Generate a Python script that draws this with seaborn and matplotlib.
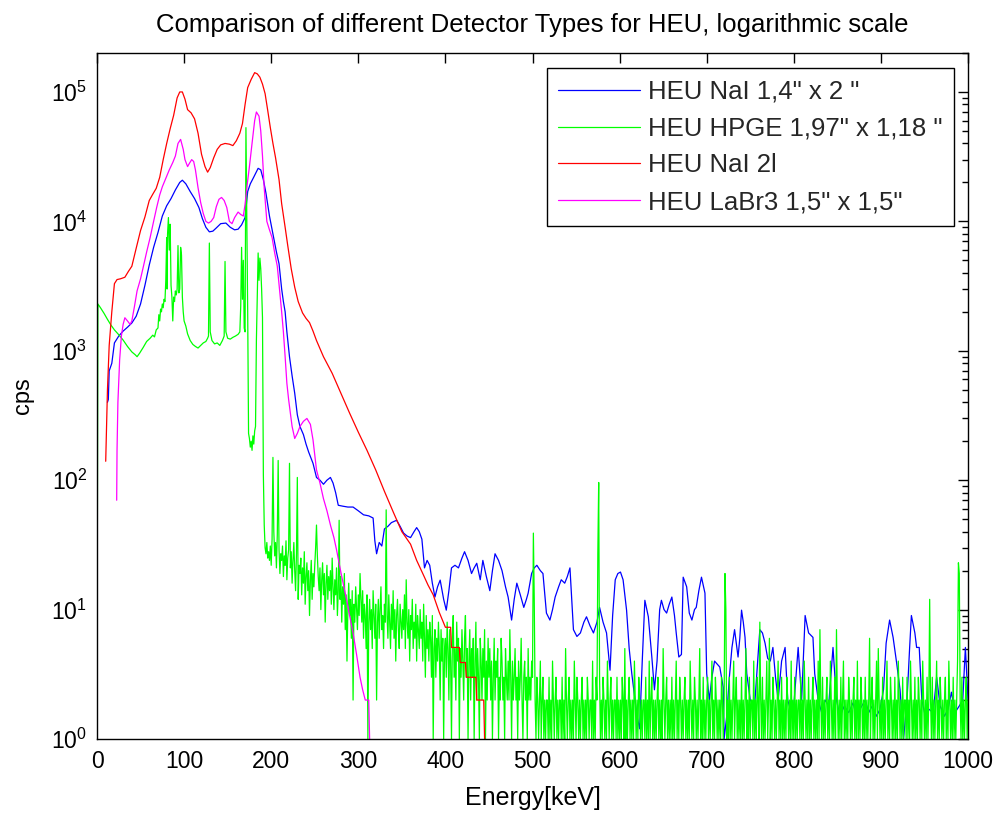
import numpy as np
import pandas as pd
import seaborn as sns
import matplotlib.pyplot as plt
from matplotlib.ticker import FixedLocator, LogLocator, NullFormatter, LogFormatterSciNotation

# Spectra (energy in keV, counts per second)

# HEU NaI 1,4" x 2"
nai14_e = [12, 13, 14, 17, 20, 25, 30, 35, 40, 45, 50, 55, 60, 65, 70, 75, 80, 85, 90, 95,
           98, 102, 107, 112, 117, 121, 125, 129, 133, 137, 142, 148, 153, 158, 162, 166, 170, 173, 176, 180,
           185, 188, 191, 194, 198, 202, 206, 209, 212, 214, 216, 218, 221, 224, 227, 230, 233, 237, 240, 243,
           248, 252, 256, 260, 264, 268, 271, 274, 277, 282, 288, 294, 300, 306, 312, 317, 319, 321, 324, 327,
           330, 334, 338, 344, 348, 352, 356, 360, 364, 367, 370, 373, 376, 379, 382, 385, 388, 391, 394, 398,
           401, 404, 407, 411, 415, 419, 422, 426, 430, 433, 436, 440, 443, 447, 451, 454, 457, 461, 465, 469,
           472, 476, 479, 482, 486, 490, 493, 495, 499, 502, 505, 509, 512, 516, 520, 523, 526, 530, 533, 537,
           540, 543, 547, 551, 555, 559, 562, 566, 570, 574, 577, 581, 585, 589, 592, 595, 598, 601, 604, 608,
           611, 614, 617, 620, 623, 626, 629, 633, 637, 640, 643, 646, 648, 651, 654, 657, 660, 663, 665, 668,
           671, 673, 677, 680, 683, 686, 688, 691, 694, 698, 700, 703, 706, 709, 712, 715, 719, 720, 723, 726,
           729, 732, 734, 736, 738, 740, 742, 744, 746, 750, 755, 758, 761, 764, 767, 770, 773, 776, 779, 782,
           786, 790, 793, 797, 800, 805, 809, 813, 817, 822, 824, 828, 832, 836, 840, 843, 845, 849, 853, 858,
           863, 868, 872, 876, 882, 886, 890, 895, 899, 903, 906, 910, 914, 918, 922, 926, 930, 933, 935, 939,
           941, 944, 947, 951, 955, 960, 964, 968, 973, 977, 981, 985, 990, 994, 997, 1000]
nai14_cps = [400, 420, 700, 800, 1150, 1300, 1420, 1520, 1640, 1850, 2300, 3200, 4600, 6300, 8200, 11000, 13200, 15000, 17500, 20000,
             20800, 19500, 17000, 15000, 12800, 10500, 9000, 8300, 8400, 8900, 9600, 9700, 9000, 8600, 8700, 9400, 10700, 17000, 19500, 22000,
             25700, 25000, 21000, 16500, 11000, 8000, 5800, 4700, 3000, 2400, 2000, 1400, 900, 640, 470, 320, 260, 225, 190, 165,
             135, 105, 100, 93, 100, 105, 95, 80, 64, 63, 62, 62, 58, 54, 53, 51, 34, 27, 33, 31,
             42, 44, 47, 49, 44, 39, 37, 36, 40, 43, 40, 35, 21, 24, 22, 16, 12.5, 15, 16.9, 12,
             9.9, 14, 21, 22, 21, 25, 28, 24, 19, 21, 22.8, 17, 24, 18, 14, 20, 27, 24, 20, 15,
             12.5, 8.3, 12, 16, 13, 10.4, 12, 13.4, 19, 21, 22, 20, 19, 9.4, 8.3, 10, 12.5, 15, 17, 16,
             18, 21, 7, 6.2, 6.6, 8, 8.8, 7.5, 6.6, 8, 10.4, 8, 6.6, 3.4, 9, 17, 19, 19.5, 17, 9.9,
             5, 3.2, 2.2, 1.5, 1.2, 4, 11.8, 8.8, 4.3, 2.4, 4, 10, 11.8, 10, 9.4, 11, 12.5, 9, 6.6, 4.3,
             4.5, 17.8, 15, 9.4, 8.3, 10, 10.4, 14, 17.8, 13.4, 3.2, 2, 3, 4, 3.8, 3.6, 2.5, 1.0, 1.5, 3,
             5.1, 7, 5.5, 4.3, 6, 9.9, 8, 6.1, 3.2, 2, 1.8, 3.5, 7, 6.6, 5.5, 4.2, 4, 5.1, 3, 2,
             4, 5.1, 2, 1.6, 1.8, 5.1, 2, 9, 6.6, 6.1, 3.2, 2, 1.6, 2, 1.8, 3.4, 5.1, 2, 1.5, 1.8,
             1.6, 1.9, 1.5, 1.7, 2, 1.6, 1.8, 1.5, 1.7, 2.4, 5.5, 8.3, 6.1, 3.9, 2.4, 1.0, 2, 5.1, 9, 6.6,
             5.1, 5.1, 2, 1.5, 1.7, 1.6, 3, 1.8, 1.5, 1.7, 2.3, 1.6, 1.8, 2, 5.1, 2]

# HEU HPGE 1,97" x 1,18" : below 193 keV at irregular points, then 1 keV channels
hpge_low_e = [0, 1, 4, 8, 12, 16, 20, 25, 30, 35, 40, 44, 46, 49, 53, 57, 61, 64, 66, 68,
              70, 71, 72, 73, 74, 75, 76, 77, 78, 79, 80, 80.5, 81, 82, 83, 84, 85, 86, 87, 88,
              89, 90, 91, 92, 93, 94, 95, 96, 97, 98, 99, 100, 102, 104, 107, 110, 113, 116, 119, 122,
              125, 127, 128, 129, 130, 132, 135, 138, 141, 144, 146, 147, 148, 150, 153, 156, 159, 162, 164, 165,
              166, 167, 168, 169, 170, 171, 172, 173, 174, 175, 176, 177, 178, 179, 180, 181, 182, 183, 184, 185,
              186, 187, 188, 189, 190, 191, 192]
hpge_low_cps = [2.4, 2300, 2150, 1950, 1750, 1580, 1450, 1330, 1210, 1080, 980, 930, 900, 960, 1060, 1180, 1250, 1320, 1280, 1450,
                1500, 1900, 1700, 2100, 2000, 2300, 2150, 2500, 2400, 3500, 7500, 3000, 8000, 10700, 6000, 9500, 3200, 2600, 1700, 2600,
                2400, 2900, 2700, 3000, 6500, 2800, 3000, 6300, 5500, 2600, 2000, 1700, 1550, 1350, 1200, 1120, 1080, 1050, 1100, 1150,
                1180, 1250, 1300, 6800, 1400, 1200, 1130, 1150, 1100, 1200, 1300, 4900, 1400, 1250, 1230, 1270, 1300, 1340, 1400, 2200,
                6300, 2500, 5000, 1500, 1400, 53000, 10700, 2000, 230, 210, 180, 200, 170, 220, 190, 240, 260, 1200, 2500, 5700,
                3500, 5200, 4300, 3000, 1800, 110, 45]
hpge_mid_cps = [30, 27, 33, 25, 28, 24, 31, 22, 35, 150, 40, 26, 33, 21, 38, 142, 29, 19, 27, 24,
                31, 18, 26, 22, 34, 17, 25, 29, 135, 21, 28, 16, 24, 33, 20, 14, 27, 105, 12, 22,
                19, 25, 13, 21, 16, 28, 11, 18, 23, 14, 20, 9, 17, 24, 12, 19, 15, 22, 30, 45,
                26, 18, 14, 21, 10, 17, 23, 13, 19, 8, 16, 22, 12, 18, 14, 20, 11, 25, 15, 10,
                17, 13, 21, 9, 14, 49, 12, 18, 8, 15, 11, 19, 7, 13, 4, 10, 16, 9, 12, 6,
                14, 2, 11, 8, 15, 10, 7, 13, 9, 19, 12, 8, 14, 6, 11, 9, 5, 13, 1, 8,
                12, 7, 10, 5, 14, 9, 6, 11, 2, 8, 12, 6, 10, 15, 7, 9, 5, 11, 8, 59,
                9, 6, 13, 8, 5, 11, 7, 14, 6, 10, 4, 9, 12, 7, 5, 11, 8, 6, 10, 7,
                13, 5, 17, 8, 6, 10, 4, 9, 7, 12, 5, 8, 6, 11, 4, 9, 7, 5, 10, 6,
                8, 4, 11, 6, 3, 9, 5, 7, 4, 8, 6, 3, 9, 1, 5, 7, 3, 6, 4, 8,
                5, 2, 7, 4, 6, 1, 5]
hpge_tail_cps = [6, 3, 8, 5, 2, 7, 4, 1, 6, 9, 3, 5, 2, 8, 4, 6, 1, 5, 3, 7,
                 4, 2, 6, 9, 3, 5, 1, 4, 7, 2, 5, 3, 6, 1, 4, 8, 2, 5, 3, 1,
                 6, 4, 2, 5, 3, 7, 1, 4, 2, 6, 3, 5, 2, 4, 1, 3, 6, 2, 4, 3,
                 5, 1, 3, 2, 6, 4, 2, 3, 1, 5, 3, 2, 4, 2, 7, 3, 1, 4, 2, 3,
                 5, 2, 3, 1, 4, 2, 3, 6, 2, 1, 3, 4, 2, 3, 1, 5, 2, 3, 2, 4,
                 3, 39, 12, 2, 1, 3, 2, 1, 2, 4, 1, 2, 3, 1, 2, 1, 2, 2, 1, 3,
                 1, 2, 1, 4, 2, 1, 2, 3, 1, 2, 1, 2, 2, 1, 3, 1, 2, 1, 5, 2,
                 1, 2, 3, 1, 2, 1, 2, 1, 4, 2, 1, 3, 2, 1, 2, 1, 2, 3, 1, 2,
                 1, 2, 1, 3, 2, 1, 2, 2, 1, 4, 1, 2, 1, 3, 2, 27, 96, 3, 1, 2,
                 1, 3, 2, 1, 2, 1, 4, 2, 1, 2, 3, 1, 2, 1, 2, 2, 1, 3, 1, 2,
                 1, 2, 1, 3, 2, 1, 5, 1, 2, 1, 2, 3, 1, 2, 1, 2, 1, 4, 2, 1,
                 2, 1, 3, 2, 1, 2, 1, 2, 2, 1, 3, 1, 2, 1, 4, 1, 2, 3, 1, 2,
                 1, 2, 1, 2, 3, 1, 2, 1, 2, 1, 5, 2, 1, 2, 3, 1, 2, 1, 2, 1,
                 3, 1, 2, 1, 2, 4, 1, 2, 1, 3, 2, 1, 2, 1, 2, 3, 1, 2, 1, 2,
                 1, 4, 2, 1, 2, 1, 3, 2, 1, 2, 1, 2, 5, 1, 2, 1, 3, 1, 2, 1,
                 2, 3, 1, 2, 1, 2, 4, 1, 2, 1, 3, 2, 1, 2, 1, 2, 1, 3, 2, 1,
                 2, 19, 10, 1, 2, 1, 3, 1, 2, 1, 2, 4, 1, 2, 3, 1, 2, 1, 2, 1,
                 3, 1, 2, 1, 2, 5, 1, 2, 1, 3, 1, 2, 2, 1, 4, 1, 2, 1, 3, 2,
                 1, 8, 2, 1, 3, 1, 2, 1, 2, 4, 1, 2, 6, 1, 2, 1, 3, 2, 1, 2,
                 1, 2, 4, 1, 2, 1, 3, 1, 2, 1, 2, 1, 3, 2, 1, 2, 1, 4, 1, 2,
                 1, 3, 1, 2, 1, 2, 2, 1, 3, 1, 2, 1, 4, 2, 1, 2, 1, 3, 1, 2,
                 1, 2, 3, 1, 2, 1, 2, 1, 4, 1, 7, 2, 1, 3, 1, 2, 1, 2, 3, 1,
                 2, 1, 4, 2, 1, 2, 1, 3, 1, 7, 2, 1, 2, 1, 3, 1, 2, 4, 1, 2,
                 1, 2, 1, 3, 2, 1, 2, 1, 2, 3, 1, 2, 1, 4, 1, 2, 1, 3, 2, 1,
                 2, 1, 3, 1, 2, 1, 2, 6, 1, 2, 3, 1, 2, 1, 2, 4, 1, 5, 2, 1,
                 2, 1, 3, 1, 2, 1, 2, 4, 1, 2, 1, 3, 2, 1, 2, 1, 3, 1, 2, 1,
                 4, 2, 1, 2, 1, 3, 1, 2, 2, 1, 3, 1, 2, 1, 4, 2, 1, 2, 1, 3,
                 1, 2, 1, 3, 2, 1, 2, 1, 4, 2, 1, 2, 1, 3, 1, 2, 12, 2, 1, 3,
                 1, 2, 1, 2, 4, 1, 2, 1, 3, 2, 1, 2, 1, 2, 3, 1, 2, 1, 4, 2,
                 1, 2, 1, 3, 1, 2, 1, 2, 4, 23, 19, 2, 1, 3, 1, 2, 1, 2, 3, 1, 2]

# HEU NaI 2l
nai2l_e = [10, 12, 14, 17, 20, 23, 27, 32, 36, 40, 45, 50, 55, 60, 64, 68, 72, 76, 80, 84,
           88, 92, 95, 98, 101, 104, 108, 112, 116, 120, 124, 127, 130, 134, 138, 142, 147, 152, 156, 160,
           164, 167, 170, 173, 177, 181, 184, 187, 190, 193, 196, 199, 202, 205, 209, 212, 216, 219, 223, 227,
           231, 236, 240, 244, 248, 252, 260, 270, 280, 290, 300, 310, 320, 330, 340, 350, 360, 367, 374, 380,
           386, 393, 400, 406, 407, 416, 417, 423, 424, 435, 436, 444, 445]
nai2l_cps = [140, 500, 1100, 2000, 3300, 3550, 3600, 3700, 4100, 4500, 6200, 8500, 10800, 14500, 16200, 18000, 21900, 30000, 40000, 52000,
             66000, 90000, 100000, 100000, 88000, 73000, 69000, 62000, 48000, 33000, 26500, 24000, 26000, 31000, 36000, 39000, 40000, 39500, 38500, 42000,
             48000, 57000, 80000, 108000, 125000, 141000, 138000, 130000, 115000, 97000, 72000, 53000, 40000, 31000, 21000, 13700, 9000, 6500, 4300, 3100,
             2400, 1960, 1780, 1650, 1420, 1200, 900, 670, 470, 330, 235, 170, 120, 82, 57, 40, 32, 24, 19, 15.5,
             13, 9.5, 7.3, 7.3, 5.1, 5.1, 3.9, 3.9, 3.0, 3.0, 2.0, 2.0, 1.0]

# HEU LaBr3 1,5" x 1,5"
labr_e = [22.6, 23, 24, 26, 28, 30, 32, 35, 38, 40, 43, 46, 50, 53, 57, 61, 65, 68.5, 72, 75,
          79, 83, 87, 90, 93, 96, 99, 101, 104, 106, 108.7, 111, 113, 116, 119, 122, 125, 128, 131, 134,
          137, 140, 143, 146, 149, 152, 155, 158, 162, 165, 168, 170, 172, 175, 178, 181, 183, 186, 188, 190,
          192, 195, 198, 201, 204, 207, 210, 212, 214, 216, 218, 220, 222, 224, 227, 230, 233, 237, 241, 245,
          248, 252, 256, 260, 264, 268, 272, 275, 279, 283, 287, 290, 294, 298, 302, 305, 308, 312, 313]
labr_cps = [70, 170, 400, 850, 1300, 1600, 1800, 1700, 1600, 1700, 2200, 2900, 3600, 4400, 5800, 7500, 10000, 12800, 16000, 18500,
            21500, 25000, 28500, 32000, 40000, 43000, 36000, 30000, 26500, 28000, 30000, 29000, 25000, 18200, 14000, 11500, 10000, 9700, 10000, 10700,
            13000, 14800, 15300, 14500, 12800, 10000, 9600, 10700, 11800, 11300, 11000, 13500, 18200, 26500, 40000, 60000, 70000, 65000, 50000, 32000,
            18000, 10000, 8600, 7500, 5700, 4500, 2770, 2000, 1400, 900, 560, 420, 330, 260, 210, 230, 260, 285, 300, 270,
            205, 120, 95, 72, 58, 45, 36, 29, 21, 15.5, 11.5, 9, 6.6, 4.5, 3.0, 2.4, 2.0, 2.0, 1.0]

labels = ['HEU NaI 1,4" x 2 "', 'HEU HPGE 1,97" x 1,18 "', 'HEU NaI 2l', 'HEU LaBr3 1,5" x 1,5"']
colors = ['#0000ff', '#00ff00', '#ff0000', '#ff00ff']

hpge_e = list(hpge_low_e) + list(range(193, 193 + len(hpge_mid_cps))) + list(range(400, 400 + len(hpge_tail_cps)))
hpge_cps = list(hpge_low_cps) + hpge_mid_cps + hpge_tail_cps

series = [(nai14_e, nai14_cps), (hpge_e, hpge_cps), (nai2l_e, nai2l_cps), (labr_e, labr_cps)]

sns.set_theme(style='white')
plt.rcParams['font.family'] = ['Liberation Sans', 'DejaVu Sans']
plt.rcParams['mathtext.default'] = 'regular'

fig = plt.figure(figsize=(9.99, 8.16), dpi=100)
ax = fig.add_axes([97 / 999, 1 - 739 / 816, 871 / 999, 686 / 816])
ax.set_yscale('log')

for (e, c), lab, col in zip(series, labels, colors):
    df = pd.DataFrame({'Energy': e, 'cps': c})
    sns.lineplot(data=df, x='Energy', y='cps', color=col, linewidth=0.9, sort=False,
                 estimator=None, label=lab, ax=ax)

ax.set_xlim(0, 1000)
ax.set_ylim(1, 2e5)
ax.xaxis.set_major_locator(FixedLocator(np.arange(0, 1001, 100)))
ax.yaxis.set_major_locator(LogLocator(base=10, numticks=10))
ax.yaxis.set_major_formatter(LogFormatterSciNotation())
ax.yaxis.set_minor_locator(LogLocator(base=10, subs=np.arange(2, 10), numticks=20))
ax.yaxis.set_minor_formatter(NullFormatter())

for s in ax.spines.values():
    s.set_color('black')
    s.set_linewidth(1.0)
ax.tick_params(which='both', direction='in', top=True, right=True, colors='black', width=1.0)
ax.tick_params(which='major', length=7, labelsize=16.5)
ax.tick_params(axis='x', which='major', pad=8)
ax.tick_params(axis='y', which='major', pad=7)
ax.tick_params(which='minor', length=4)
ax.tick_params(axis='x', which='minor', top=False, bottom=False)

ax.set_xlabel('Energy[keV]', fontsize=18, color='black', labelpad=9)
ax.set_ylabel('cps', fontsize=17, color='black', labelpad=12)
ax.set_title('Comparison of different Detector Types for HEU, logarithmic scale',
             fontsize=18.5, color='black', pad=15)

leg = ax.legend(loc='upper right', bbox_to_anchor=(0.984, 0.978), fontsize=18.5,
                frameon=True, fancybox=False, framealpha=1, edgecolor='black',
                handlelength=3.2, handletextpad=0.3, labelspacing=0.5, borderpad=0.45,
                borderaxespad=0)
leg.get_frame().set_linewidth(1.0)

fig.savefig('out.png', dpi=100)
